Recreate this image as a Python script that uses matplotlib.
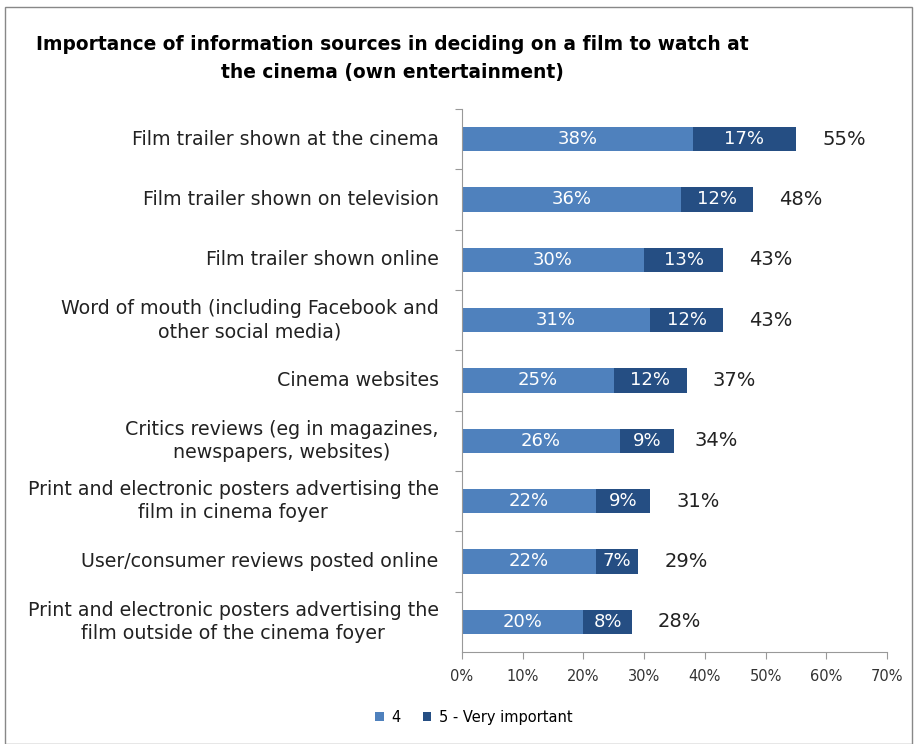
import matplotlib.pyplot as plt
from matplotlib.patches import Rectangle

# data
categories = ["Film trailer shown at the cinema",
              "Film trailer shown on television",
              "Film trailer shown online",
              "Word of mouth (including Facebook and\nother social media)",
              "Cinema websites",
              "Critics reviews (eg in magazines,\nnewspapers, websites)",
              "Print and electronic posters advertising the\nfilm in cinema foyer",
              "User/consumer reviews posted online",
              "Print and electronic posters advertising the\nfilm outside of the cinema foyer"]
imp4 = [38, 36, 30, 31, 25, 26, 22, 22, 20]
imp5 = [17, 12, 13, 12, 12, 9, 9, 7, 8]
totals = [55, 48, 43, 43, 37, 34, 31, 29, 28]
xticks = [0, 10, 20, 30, 40, 50, 60, 70]

c4 = '#4F81BD'
c5 = '#254E83'

plt.rcParams['font.family'] = ['DejaVu Sans']

fig = plt.figure(figsize=(9.17, 7.44), dpi=100)
ax = fig.add_axes([0.5038, 0.1237, 0.4635, 0.7298])

y = list(range(len(categories)))
ax.barh(y, imp4, height=0.4, color=c4, label='4')
ax.barh(y, imp5, left=imp4, height=0.4, color=c5, label='5 - Very important')

for i in y:
    ax.text(imp4[i] / 2, i, str(imp4[i]) + '%', color='white', ha='center', va='center', fontsize=13)
    ax.text(imp4[i] + imp5[i] / 2, i, str(imp5[i]) + '%', color='white', ha='center', va='center', fontsize=13)
    ax.text(totals[i] + 4.3, i, str(totals[i]) + '%', color='#222222', ha='left', va='center', fontsize=14)

ax.set_ylim(len(categories) - 0.5, -0.5)
ax.set_xlim(0, 70)
ax.set_xticks(xticks)
ax.set_xticklabels([str(t) + '%' for t in xticks], fontsize=10.5, color='#333333')
ax.set_yticks([i + 0.5 for i in y[:-1]] + [-0.5], minor=False)
ax.set_yticklabels([''] * len(categories))
ax.tick_params(axis='y', length=5, color='#999999')
ax.tick_params(axis='x', length=5, color='#999999', pad=7)
for i in y:
    ax.text(-0.055, i, categories[i], transform=ax.get_yaxis_transform(), ha='right', va='center',
            multialignment='center', fontsize=13.7, color='#222222', linespacing=1.3)

for s in ['top', 'right']:
    ax.spines[s].set_visible(False)
ax.spines['left'].set_color('#999999')
ax.spines['bottom'].set_color('#999999')

fig.text(0.428, 0.94, "Importance of information sources in deciding on a film to watch at",
         ha='center', va='center', fontsize=13.4, fontweight='bold')
fig.text(0.428, 0.902, "the cinema (own entertainment)",
         ha='center', va='center', fontsize=13.4, fontweight='bold')

fig.legend(loc='center left', bbox_to_anchor=(0.395, 0.036), ncol=2, frameon=False,
           fontsize=10.5, handlelength=0.6, handleheight=0.6, handletextpad=0.5, columnspacing=1.5)

fig.patches.append(Rectangle((0.005, 0.0), 0.99, 0.99, transform=fig.transFigure,
                             fill=False, edgecolor='#888888', linewidth=1))

fig.savefig('out.png', dpi=100)
